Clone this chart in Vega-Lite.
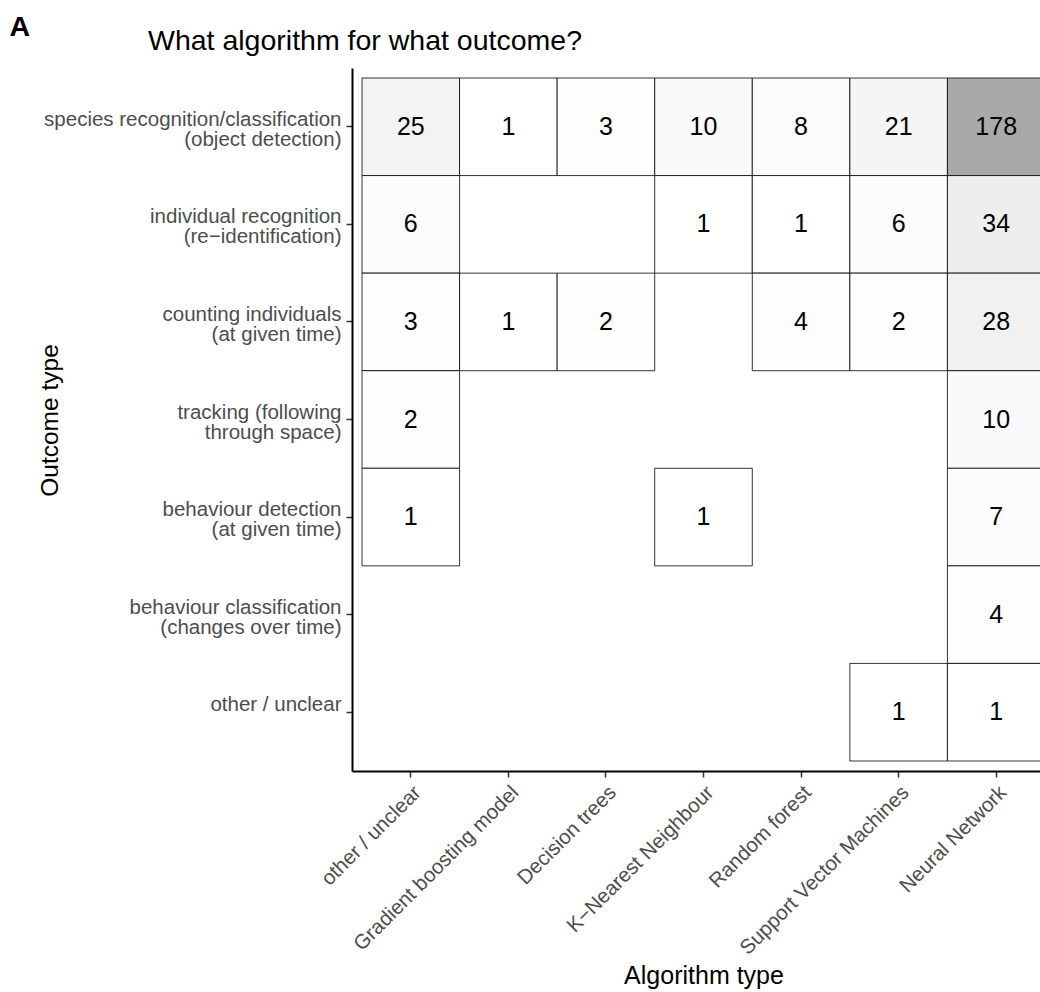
{
  "$schema": "https://vega.github.io/schema/vega-lite/v6.json",
  "autosize": {"type": "none"},
  "padding": {"left": 352, "top": 68, "right": 0, "bottom": 221},
  "width": 688,
  "height": 703,
  "background": "white",
  "title": {
    "text": "What algorithm for what outcome?",
    "anchor": "start",
    "frame": "group",
    "dx": -204,
    "offset": -43,
    "font": "Liberation Sans",
    "fontSize": 28.5,
    "fontWeight": "normal",
    "color": "black"
  },
  "data": {
    "values": [
      {"outcome": "species recognition/classification|(object detection)", "algorithm": "other / unclear", "n": 25},
      {"outcome": "species recognition/classification|(object detection)", "algorithm": "Gradient boosting model", "n": 1},
      {"outcome": "species recognition/classification|(object detection)", "algorithm": "Decision trees", "n": 3},
      {"outcome": "species recognition/classification|(object detection)", "algorithm": "K−Nearest Neighbour", "n": 10},
      {"outcome": "species recognition/classification|(object detection)", "algorithm": "Random forest", "n": 8},
      {"outcome": "species recognition/classification|(object detection)", "algorithm": "Support Vector Machines", "n": 21},
      {"outcome": "species recognition/classification|(object detection)", "algorithm": "Neural Network", "n": 178},
      {"outcome": "individual recognition|(re−identification)", "algorithm": "other / unclear", "n": 6},
      {"outcome": "individual recognition|(re−identification)", "algorithm": "K−Nearest Neighbour", "n": 1},
      {"outcome": "individual recognition|(re−identification)", "algorithm": "Random forest", "n": 1},
      {"outcome": "individual recognition|(re−identification)", "algorithm": "Support Vector Machines", "n": 6},
      {"outcome": "individual recognition|(re−identification)", "algorithm": "Neural Network", "n": 34},
      {"outcome": "counting individuals|(at given time)", "algorithm": "other / unclear", "n": 3},
      {"outcome": "counting individuals|(at given time)", "algorithm": "Gradient boosting model", "n": 1},
      {"outcome": "counting individuals|(at given time)", "algorithm": "Decision trees", "n": 2},
      {"outcome": "counting individuals|(at given time)", "algorithm": "Random forest", "n": 4},
      {"outcome": "counting individuals|(at given time)", "algorithm": "Support Vector Machines", "n": 2},
      {"outcome": "counting individuals|(at given time)", "algorithm": "Neural Network", "n": 28},
      {"outcome": "tracking (following|through space)", "algorithm": "other / unclear", "n": 2},
      {"outcome": "tracking (following|through space)", "algorithm": "Neural Network", "n": 10},
      {"outcome": "behaviour detection|(at given time)", "algorithm": "other / unclear", "n": 1},
      {"outcome": "behaviour detection|(at given time)", "algorithm": "K−Nearest Neighbour", "n": 1},
      {"outcome": "behaviour detection|(at given time)", "algorithm": "Neural Network", "n": 7},
      {"outcome": "behaviour classification|(changes over time)", "algorithm": "Neural Network", "n": 4},
      {"outcome": "other / unclear", "algorithm": "Support Vector Machines", "n": 1},
      {"outcome": "other / unclear", "algorithm": "Neural Network", "n": 1}
    ]
  },
  "encoding": {
    "y": {
      "field": "outcome",
      "type": "nominal",
      "sort": [
        "species recognition/classification|(object detection)",
        "individual recognition|(re−identification)",
        "counting individuals|(at given time)",
        "tracking (following|through space)",
        "behaviour detection|(at given time)",
        "behaviour classification|(changes over time)",
        "other / unclear"
      ],
      "scale": {"paddingInner": 0, "paddingOuter": 0.1025},
      "axis": {
        "title": "Outcome type",
        "titleFont": "Liberation Sans",
        "titleFontSize": 24.5,
        "titleFontWeight": "normal",
        "titleColor": "black",
        "titleX": -302,
        "titleY": 352,
        "titleBaseline": "middle",
        "labelExpr": "split(datum.label, '|')",
        "labelFont": "Liberation Sans",
        "labelFontSize": 20.5,
        "labelLineHeight": 20,
        "labelOffset": -7,
        "labelColor": "#4D4D4D",
        "labelLimit": 0,
        "labelOverlap": false,
        "labelPadding": 5,
        "tickSize": 6,
        "tickWidth": 1.5,
        "tickColor": "#333333",
        "domainColor": "black",
        "domainWidth": 2,
        "grid": false
      }
    }
  },
  "layer": [
    {
      "mark": {"type": "rect", "stroke": "black", "strokeWidth": 0.8},
      "encoding": {
        "x": {
          "field": "algorithm",
          "type": "nominal",
          "sort": ["other / unclear", "Gradient boosting model", "Decision trees", "K−Nearest Neighbour", "Random forest", "Support Vector Machines", "Neural Network"],
          "scale": {"range": [0, 703], "paddingInner": 0, "paddingOuter": 0.1025},
          "axis": {
            "title": "Algorithm type",
            "titleFont": "Liberation Sans",
            "titleFontSize": 25,
            "titleFontWeight": "normal",
            "titleColor": "black",
            "titleY": 212,
            "titleBaseline": "alphabetic",
            "labelAngle": -45,
            "labelAlign": "right",
            "labelBaseline": "top",
            "labelFont": "Liberation Sans",
            "labelFontSize": 20.5,
            "labelColor": "#4D4D4D",
            "labelLimit": 0,
            "labelOverlap": false,
            "labelPadding": 5,
            "tickSize": 6,
            "tickWidth": 1.5,
            "tickColor": "#333333",
            "domainColor": "black",
            "domainWidth": 2,
            "grid": false
          }
        },
        "fill": {
          "field": "n",
          "type": "quantitative",
          "scale": {"domain": [1, 178], "range": ["#FFFFFF", "#A9A9A9"], "interpolate": "lab"},
          "legend": null
        }
      }
    },
    {
      "mark": {"type": "text", "font": "Liberation Sans", "fontSize": 25, "color": "black", "baseline": "middle"},
      "encoding": {
        "x": {
          "field": "algorithm",
          "type": "nominal",
          "sort": ["other / unclear", "Gradient boosting model", "Decision trees", "K−Nearest Neighbour", "Random forest", "Support Vector Machines", "Neural Network"],
          "axis": {
            "orient": "top",
            "title": "A",
            "titleFont": "Liberation Sans",
            "titleFontSize": 28.5,
            "titleFontWeight": "bold",
            "titleColor": "black",
            "titleX": -343,
            "titleY": -33,
            "titleAlign": "left",
            "titleBaseline": "alphabetic",
            "labels": false,
            "ticks": false,
            "domain": false,
            "grid": false
          }
        },
        "text": {"field": "n", "type": "quantitative"}
      }
    }
  ],
  "resolve": {"axis": {"x": "independent"}},
  "config": {
    "view": {"stroke": null},
    "font": "Liberation Sans"
  }
}
